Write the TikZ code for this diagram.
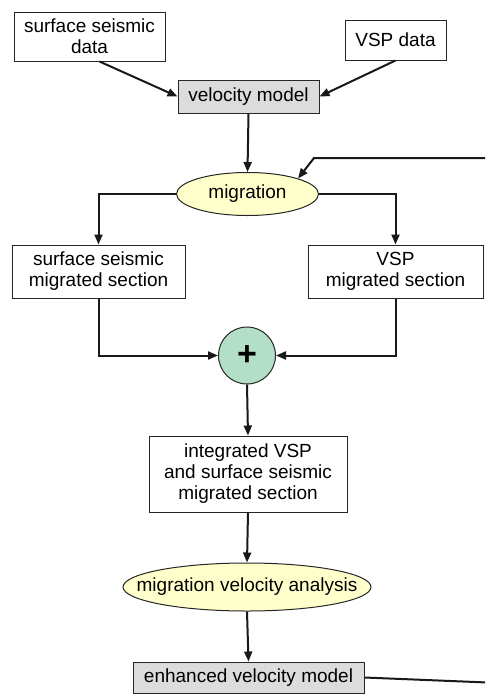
\documentclass[tikz,border=0pt]{standalone}
\usepackage{fontspec}
\setmainfont{Liberation Sans}
\usetikzlibrary{arrows.meta,shapes.geometric,calc}
\definecolor{boxgray}{HTML}{DCDCDC}
\definecolor{elyellow}{HTML}{FFFFCC}
\definecolor{mint}{HTML}{B3DFC8}
\begin{document}
\begin{tikzpicture}[x=1pt,y=-1pt,
  txt/.style={font=\fontsize{19}{21}\selectfont, align=center},
  box/.style={draw=black!85, line width=1pt, fill=white, inner sep=0pt, txt},
  graybox/.style={box, fill=boxgray},
  ell/.style={draw=black!85, line width=1pt, ellipse, fill=elyellow, inner sep=0pt},
  arr/.style={line width=2pt, draw=black!90, -{Triangle[length=10pt,width=8pt]}},
  ln/.style={line width=2pt, draw=black!90}]
\clip (0,0) rectangle (485,694);
\fill[white] (0,0) rectangle (485,694);
\node[box, minimum width=151pt, minimum height=49pt] (ssd) at (89.5,36.5) {surface seismic\\data};
\node[box, minimum width=101pt, minimum height=40pt] (vsp) at (395.5,40) {VSP data};
\node[graybox, minimum width=141pt, minimum height=33pt] (vm) at (248.5,96.5) {velocity model};
\node[ell, minimum width=142pt, minimum height=43pt, label={[txt]center:migration}] (mig) at (247.5,194) {};
\node[box, minimum width=173pt, minimum height=53pt] (ssm) at (98.5,271.5) {surface seismic\\migrated section};
\node[box, minimum width=175pt, minimum height=53pt] (vspm) at (395.5,271.5) {VSP\\migrated section};
\node[circle, draw=black!85, line width=1pt, fill=mint, minimum size=57pt, inner sep=0pt,
  font=\fontsize{34}{34}\selectfont\bfseries] (plus) at (247,355.5) {+};
\node[box, minimum width=198pt, minimum height=76pt] (int) at (248,474) {integrated VSP\\and surface seismic\\migrated section};
\node[ell, minimum width=248pt, minimum height=48pt, label={[txt]center:migration velocity analysis}] (mva) at (247,587) {};
\node[graybox, minimum width=231pt, minimum height=31pt] (evm) at (248.5,677.5) {enhanced velocity model};
\coordinate (fbA) at (500,683);
\coordinate (fbB) at (500,158);
\coordinate (fbC) at (314,158);
\draw[arr] ([xshift=10pt]ssd.south) -- (vm.west);
\draw[arr] (vsp.south) -- (vm.east);
\draw[arr] (vm.south) -- (mig.north);
\draw[arr] (mig.west) -| (ssm.north);
\draw[arr] (mig.east) -| (vspm.north);
\draw[arr] (ssm.south) |- (plus.west);
\draw[arr] (vspm.south) |- (plus.east);
\draw[arr] (plus.south) -- (int.north);
\draw[arr] (int.south) -- (mva.north);
\draw[arr] (mva.south) -- (evm.north);
\draw[arr] (evm.east) -- (fbA) -- (fbB) -- (fbC) -- (mig.north east);
\end{tikzpicture}
\end{document}
